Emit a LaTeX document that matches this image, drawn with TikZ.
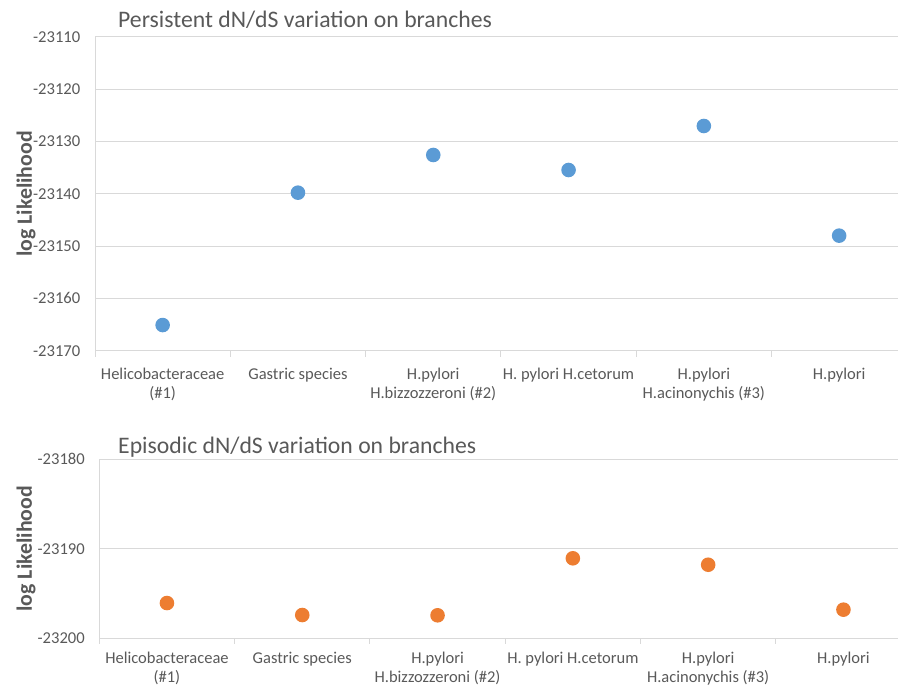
\documentclass[tikz,border=0pt]{standalone}
\usepackage{fontspec}
\setmainfont{Carlito}
\definecolor{axisgray}{HTML}{D9D9D9}
\definecolor{labelgray}{HTML}{595959}
\definecolor{ptblue}{HTML}{5B9BD5}
\definecolor{ptorange}{HTML}{ED7D31}
\tikzset{
	grid line/.style={draw=axisgray, line width=1pt},
	tick label/.style={anchor=east, font=\fontsize{16.6}{18}\selectfont},
	cat label/.style={anchor=north, align=center, font=\fontsize{16.5}{19.5}\selectfont},
	chart title/.style={anchor=base west, font=\fontsize{23.7}{26}\selectfont},
	axis title/.style={rotate=90, font=\fontsize{21.8}{24}\selectfont\bfseries},
	dot/.style={circle, minimum size=14.6pt}
}
\begin{document}
\begin{tikzpicture}[x=1pt, y=-1pt, every node/.style={inner sep=0pt, text=labelgray}]
	\useasboundingbox (0,0) rectangle (898,690);
	% persistent model
	\node[chart title] (ptitle) at (118,27.5) {Persistent dN/dS variation on branches};
	\node[axis title] (pytitle) at (26,194) {log Likelihood};
	\foreach \k/\v in {0/-23110,1/-23120,2/-23130,3/-23140,4/-23150,5/-23160,6/-23170} {
		\draw[grid line] (95,{37+\k*52.28}) -- (898,{37+\k*52.28});
		\node[tick label] (pt\k) at (80.5,{37+\k*52.28}) {\v};
	}
	\draw[grid line] (95,37) -- (95,356.5);
	\foreach \i in {1,...,5}
		\draw[grid line] ({95+\i*135.3},350.7) -- ({95+\i*135.3},356.5);
	\foreach \i/\txt in {0/{Helicobacteraceae\\(\#1)}, 1/{Gastric species}, 2/{H.pylori\\H.bizzozzeroni (\#2)}, 3/{H. pylori H.cetorum}, 4/{H.pylori\\H.acinonychis (\#3)}, 5/{H.pylori}}
		\node[cat label] (pc\i) at ({162.65+\i*135.3},367.5) {\txt};
	% offsets below -23110
	\foreach \i/\d in {0/55.1, 1/29.78, 2/22.57, 3/25.44, 4/17.02, 5/38.0}
		\node[dot, fill=ptblue] (pp\i) at ({162.65+\i*135.3},{37+\d*5.228}) {};
	% episodic model
	\node[chart title] (etitle) at (118,453) {Episodic dN/dS variation on branches};
	\node[axis title] (eytitle) at (26,548.8) {log Likelihood};
	\foreach \k/\v in {0/-23180,1/-23190,2/-23200} {
		\draw[grid line] (99.3,{459.3+\k*89.5}) -- (898,{459.3+\k*89.5});
		\node[tick label] (et\k) at (85,{459.3+\k*89.5}) {\v};
	}
	\draw[grid line] (99.3,459.3) -- (99.3,644);
	\foreach \i in {1,...,5}
		\draw[grid line] ({99.3+\i*135.3},638.3) -- ({99.3+\i*135.3},644);
	\foreach \i/\txt in {0/{Helicobacteraceae\\(\#1)}, 1/{Gastric species}, 2/{H.pylori\\H.bizzozzeroni (\#2)}, 3/{H. pylori H.cetorum}, 4/{H.pylori\\H.acinonychis (\#3)}, 5/{H.pylori}}
		\node[cat label] (ec\i) at ({166.95+\i*135.3},651.5) {\txt};
	% offsets below -23180
	\foreach \i/\d in {0/16.06, 1/17.40, 2/17.43, 3/11.06, 4/11.78, 5/16.8}
		\node[dot, fill=ptorange] (ep\i) at ({166.95+\i*135.3},{459.3+\d*8.95}) {};
\end{tikzpicture}
\end{document}
